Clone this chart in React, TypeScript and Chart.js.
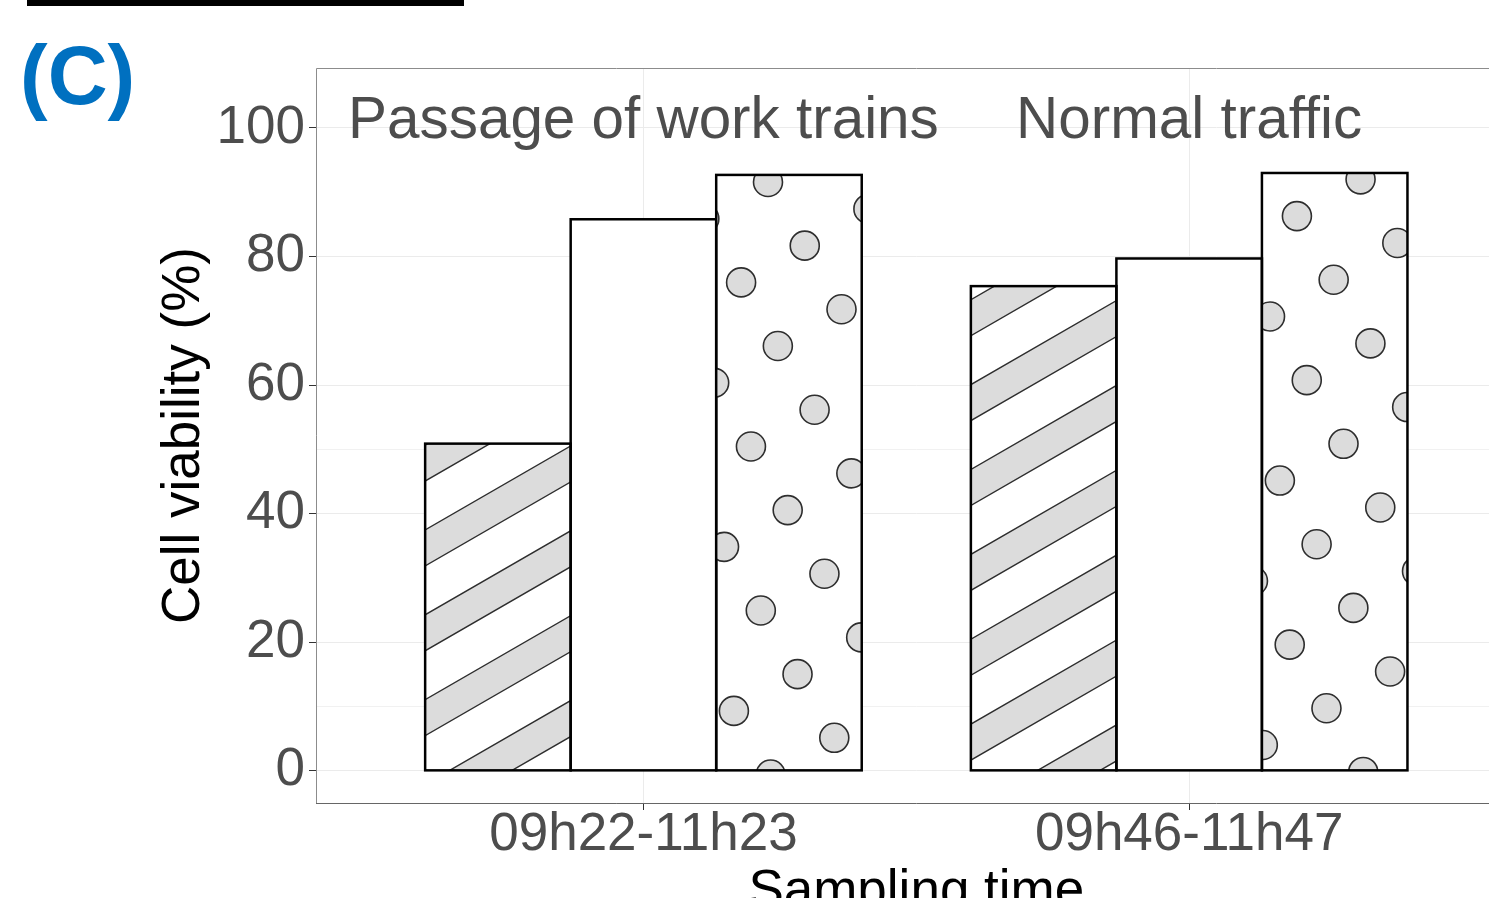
import React, { useEffect, useRef } from 'react';
import { Chart, registerables } from 'chart.js';

Chart.register(...registerables);

// Sampling windows (x categories) and their positions on the linear x axis
const CATEGORIES = ['09h22-11h23', '09h46-11h47'];
const CATEGORY_POS = [1, 2];

// Cell viability (%) per sampling window, one array per bar fill
const SERIES_LABELS = ['Series 1', 'Series 2', 'Series 3'];
const SERIES_STRIPES = [50.9, 75.4];
const SERIES_PLAIN = [85.8, 79.7];
const SERIES_DOTS = [92.7, 93.0];

// Y axis breaks
const Y_MAJOR = [0, 20, 40, 60, 80, 100];
const Y_MINOR = [10, 50];

// Panel headings written above each group
const GROUP_HEADINGS = ['Passage of work trains', 'Normal traffic'];
const GROUP_HEADING_Y = 101.0;

const FONT = "'Liberation Sans', Arial, Helvetica, sans-serif";
const PATTERN_PERIOD = 73.5;
const COS30 = Math.cos(Math.PI / 6);

function drawStripes(ctx: CanvasRenderingContext2D, l: number, t: number, r: number, b: number) {
  // Diagonal bands rising to the right at 30 degrees
  const ox = 425, oy = 530;
  const nx = 0.5, ny = COS30;
  const dx = COS30, dy = -0.5;
  const band = 31.2;
  const corners = [[l, t], [r, t], [l, b], [r, b]];
  const s = corners.map(([px, py]) => (px - ox) * nx + (py - oy) * ny);
  const kmin = Math.floor(Math.min(...s) / PATTERN_PERIOD) - 1;
  const kmax = Math.ceil(Math.max(...s) / PATTERN_PERIOD) + 1;
  const L = 2000;
  for (let k = kmin; k <= kmax; k++) {
    const s0 = k * PATTERN_PERIOD;
    const s1 = s0 + band;
    const a0x = ox + s0 * nx, a0y = oy + s0 * ny;
    const a1x = ox + s1 * nx, a1y = oy + s1 * ny;
    ctx.beginPath();
    ctx.moveTo(a0x - L * dx, a0y - L * dy);
    ctx.lineTo(a0x + L * dx, a0y + L * dy);
    ctx.lineTo(a1x + L * dx, a1y + L * dy);
    ctx.lineTo(a1x - L * dx, a1y - L * dy);
    ctx.closePath();
    ctx.fillStyle = '#dcdcdc';
    ctx.fill();
    ctx.strokeStyle = '#2e2e2e';
    ctx.lineWidth = 1.4;
    ctx.beginPath();
    ctx.moveTo(a0x - L * dx, a0y - L * dy);
    ctx.lineTo(a0x + L * dx, a0y + L * dy);
    ctx.moveTo(a1x - L * dx, a1y - L * dy);
    ctx.lineTo(a1x + L * dx, a1y + L * dy);
    ctx.stroke();
  }
}

function drawDots(ctx: CanvasRenderingContext2D, l: number, t: number, r: number, b: number) {
  // Circles on a square lattice turned by 30 degrees
  const ox = 768, oy = 182;
  const u1 = [0.5, COS30];
  const u2 = [COS30, -0.5];
  const rad = 14.5;
  const corners = [[l, t], [r, t], [l, b], [r, b]];
  const is = corners.map(([px, py]) => ((px - ox) * u1[0] + (py - oy) * u1[1]) / PATTERN_PERIOD);
  const js = corners.map(([px, py]) => ((px - ox) * u2[0] + (py - oy) * u2[1]) / PATTERN_PERIOD);
  for (let i = Math.floor(Math.min(...is)) - 1; i <= Math.ceil(Math.max(...is)) + 1; i++) {
    for (let j = Math.floor(Math.min(...js)) - 1; j <= Math.ceil(Math.max(...js)) + 1; j++) {
      const cx = ox + PATTERN_PERIOD * (i * u1[0] + j * u2[0]);
      const cy = oy + PATTERN_PERIOD * (i * u1[1] + j * u2[1]);
      if (cx < l - rad - 2 || cx > r + rad + 2 || cy < t - rad - 2 || cy > b + rad + 2) continue;
      ctx.beginPath();
      ctx.arc(cx, cy, rad, 0, Math.PI * 2);
      ctx.fillStyle = '#dcdcdc';
      ctx.fill();
      ctx.strokeStyle = '#2e2e2e';
      ctx.lineWidth = 1.6;
      ctx.stroke();
    }
  }
}

const decorations = {
  id: 'decorations',
  afterDatasetsDraw(chart: any) {
    const ctx: CanvasRenderingContext2D = chart.ctx;
    chart.data.datasets.forEach((ds: any, di: number) => {
      const meta = chart.getDatasetMeta(di);
      meta.data.forEach((bar: any) => {
        const { x, y, base, width } = bar.getProps(['x', 'y', 'base', 'width'], true);
        const l = x - width / 2;
        const r = x + width / 2;
        const t = Math.min(y, base);
        const b = Math.max(y, base);
        ctx.save();
        ctx.beginPath();
        ctx.rect(l, t, r - l, b - t);
        ctx.clip();
        if (ds.pattern === 'stripes') drawStripes(ctx, l, t, r, b);
        if (ds.pattern === 'dots') drawDots(ctx, l, t, r, b);
        ctx.restore();
        ctx.save();
        ctx.strokeStyle = '#000';
        ctx.lineWidth = 2.5;
        ctx.strokeRect(l, t, r - l, b - t);
        ctx.restore();
      });
    });
  },
  afterDraw(chart: any) {
    const ctx: CanvasRenderingContext2D = chart.ctx;
    const { left, top, right, bottom } = chart.chartArea;
    const xs = chart.scales.x;
    const ys = chart.scales.y;
    ctx.save();
    // panel border
    ctx.lineWidth = 1;
    ctx.strokeStyle = '#8c8c8c';
    ctx.beginPath();
    ctx.moveTo(left + 0.5, bottom);
    ctx.lineTo(left + 0.5, top + 0.5);
    ctx.lineTo(right, top + 0.5);
    ctx.stroke();
    ctx.strokeStyle = '#666666';
    ctx.beginPath();
    ctx.moveTo(left, bottom + 0.5);
    ctx.lineTo(right, bottom + 0.5);
    ctx.stroke();

    // group headings
    ctx.font = `58.4px ${FONT}`;
    ctx.fillStyle = '#4d4d4d';
    ctx.textAlign = 'center';
    ctx.textBaseline = 'middle';
    GROUP_HEADINGS.forEach((txt, i) => {
      ctx.fillText(txt, xs.getPixelForValue(CATEGORY_POS[i]), ys.getPixelForValue(GROUP_HEADING_Y));
    });

    // panel tag and the rule above it
    ctx.fillStyle = '#000';
    ctx.fillRect(27, 0, 437, 6);
    ctx.font = `bold 83px ${FONT}`;
    ctx.fillStyle = '#0070c0';
    ctx.textAlign = 'left';
    ctx.textBaseline = 'alphabetic';
    ctx.fillText('(C)', 20, 104);
    ctx.restore();
  },
};

export default function App() {
  const ref = useRef<HTMLCanvasElement>(null);

  useEffect(() => {
    document.body.style.margin = '0';
    const toPoints = (vals: number[]) => CATEGORY_POS.map((x, i) => ({ x, y: vals[i] }));
    const chart = new Chart(ref.current as HTMLCanvasElement, {
      type: 'bar',
      data: {
        datasets: [
          { label: SERIES_LABELS[0], data: toPoints(SERIES_STRIPES), backgroundColor: '#ffffff', borderWidth: 0, pattern: 'stripes' } as any,
          { label: SERIES_LABELS[1], data: toPoints(SERIES_PLAIN), backgroundColor: '#ffffff', borderWidth: 0, pattern: 'plain' } as any,
          { label: SERIES_LABELS[2], data: toPoints(SERIES_DOTS), backgroundColor: '#ffffff', borderWidth: 0, pattern: 'dots' } as any,
        ],
      },
      options: {
        responsive: false,
        animation: false,
        devicePixelRatio: 1,
        layout: { padding: { left: 153, top: 68, right: 3.4, bottom: 0 } },
        plugins: { legend: { display: false }, tooltip: { enabled: false } },
        datasets: { bar: { categoryPercentage: 0.8, barPercentage: 1 } },
        scales: {
          x: {
            type: 'linear',
            min: 0.4,
            max: 2.6,
            offset: false,
            afterBuildTicks: (s: any) => {
              s.ticks = CATEGORY_POS.map((v) => ({ value: v }));
            },
            afterFit: (s: any) => {
              s.height = 127;
            },
            ticks: {
              autoSkip: false,
              maxRotation: 0,
              color: '#4d4d4d',
              font: { family: FONT, size: 53, lineHeight: 1 },
              padding: -1,
              callback: (v: any) => CATEGORIES[CATEGORY_POS.indexOf(Number(v))] ?? '',
            },
            grid: { offset: false, color: '#ebebeb', lineWidth: 1, tickColor: '#333333', tickLength: 7 },
            border: { display: false },
            title: {
              display: true,
              text: 'Sampling time',
              color: '#000',
              font: { family: FONT, size: 53, lineHeight: 1.2 },
              padding: { top: 0, bottom: 5.5 },
            },
          } as any,
          y: {
            type: 'linear',
            min: -5,
            max: 109.33,
            afterBuildTicks: (s: any) => {
              s.ticks = [...Y_MAJOR, ...Y_MINOR].sort((a, b) => a - b).map((v) => ({ value: v }));
            },
            afterFit: (s: any) => {
              s.width = 163;
            },
            ticks: {
              autoSkip: false,
              color: '#4d4d4d',
              font: { family: FONT, size: 53, lineHeight: 1.2 },
              padding: 4,
              callback: (v: any) => (Y_MAJOR.includes(Number(v)) ? String(v) : ''),
            },
            grid: {
              color: (c: any) => (Y_MAJOR.includes(c.tick?.value) ? '#ebebeb' : '#f1f1f1'),
              tickColor: (c: any) => (Y_MAJOR.includes(c.tick?.value) ? '#333333' : 'rgba(0,0,0,0)'),
              lineWidth: 1,
              tickLength: 7,
            },
            border: { display: false },
            title: {
              display: true,
              text: 'Cell viability (%)',
              color: '#000',
              font: { family: FONT, size: 53, lineHeight: 1.2 },
              padding: { top: 0, bottom: 0 },
            },
          } as any,
        },
      },
      plugins: [decorations],
    });
    return () => chart.destroy();
  }, []);

  return (
    <div
      style={{
        position: 'fixed',
        left: 0,
        top: 0,
        width: '100vw',
        height: '100vh',
        overflow: 'hidden',
        background: '#ffffff',
      }}
    >
      <canvas ref={ref} width={1520} height={930} style={{ display: 'block', width: 1520, height: 930 }} />
    </div>
  );
}
